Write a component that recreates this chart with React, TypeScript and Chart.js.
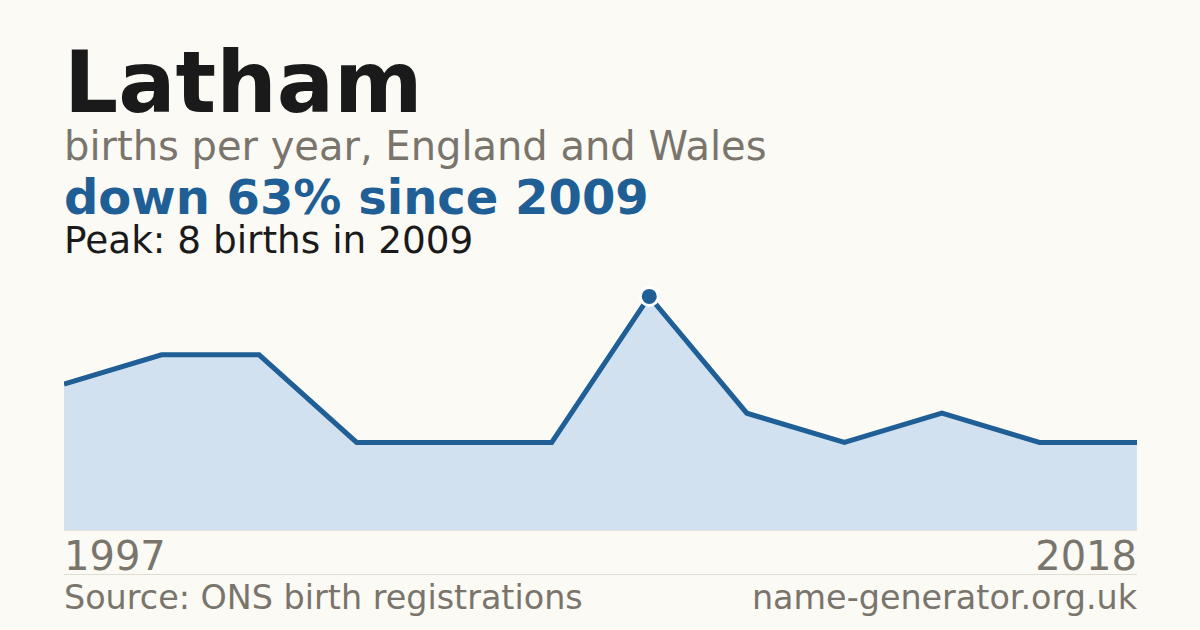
import { useEffect, useRef } from 'react';
import Chart from 'chart.js/auto';

const years = ['1997', '1999', '2001', '2003', '2005', '2007', '2009', '2011', '2013', '2015', '2017', '2018'];
const births = [5, 6, 6, 3, 3, 3, 8, 4, 3, 4, 3, 3];
const peakIndex = 6;

const BG = '#fbfaf5';
const BLUE = '#1f5f96';
const FILL = '#d1e1ef';
const GREY = '#7a756c';
const FONT = '"DejaVu Sans", sans-serif';

function Text({ children, top, size, color, weight = 'normal', right = false }) {
  return (
    <div
      style={{
        position: 'absolute',
        top,
        left: right ? undefined : 64,
        right: right ? 1200 - 1137 : undefined,
        fontSize: size,
        lineHeight: 1,
        fontWeight: weight,
        color,
        whiteSpace: 'nowrap',
      }}
    >
      {children}
    </div>
  );
}

export default function App() {
  const chartRef = useRef(null);
  const chartInstance = useRef(null);

  useEffect(() => {
    if (!chartRef.current) return;
    const ctx = chartRef.current.getContext('2d');
    chartInstance.current = new Chart(ctx, {
      type: 'line',
      data: {
        labels: years,
        datasets: [
          {
            data: births,
            borderColor: BLUE,
            borderWidth: 5,
            backgroundColor: FILL,
            fill: 'origin',
            tension: 0,
            pointRadius: births.map((_, i) => (i === peakIndex ? 9 : 0)),
            pointBackgroundColor: BLUE,
            pointBorderColor: '#ffffff',
            pointBorderWidth: 3,
            pointHoverRadius: 0,
            clip: false,
          },
        ],
      },
      options: {
        responsive: false,
        animation: false,
        layout: { padding: 0 },
        scales: {
          x: { display: false, offset: false },
          y: { display: false, min: 0, max: 10 },
        },
        plugins: {
          legend: { display: false },
          tooltip: { enabled: false },
        },
      },
    });

    return () => {
      if (chartInstance.current) {
        chartInstance.current.destroy();
      }
    };
  }, []);

  return (
    <div
      style={{
        position: 'fixed',
        left: 0,
        top: 0,
        width: 1200,
        height: 630,
        background: BG,
        fontFamily: FONT,
        overflow: 'hidden',
      }}
    >
      <Text top={40} size={85} color="#1a1a1a" weight="bold">Latham</Text>
      <Text top={126} size={40} color={GREY}>births per year, England and Wales</Text>
      <Text top={173} size={48} color={BLUE} weight="bold">down 63% since 2009</Text>
      <Text top={222} size={37.4} color="#1a1a1a">Peak: 8 births in 2009</Text>

      <div style={{ position: 'absolute', left: 64, top: 238, width: 1073, height: 292 }}>
        <canvas ref={chartRef} width={1073} height={292} style={{ display: 'block' }}></canvas>
      </div>

      <div style={{ position: 'absolute', left: 64, top: 530, width: 1073, height: 1, background: '#e4e1d9' }} />

      <Text top={536} size={40} color={GREY}>1997</Text>
      <Text top={536} size={40} color={GREY} right>2018</Text>
      <div style={{ position: 'absolute', left: 64, top: 574, width: 1073, height: 1, background: '#e0ddd5' }} />
      <Text top={581} size={33.4} color={GREY}>Source: ONS birth registrations</Text>
      <Text top={581} size={33.4} color={GREY} right>name-generator.org.uk</Text>
    </div>
  );
}
